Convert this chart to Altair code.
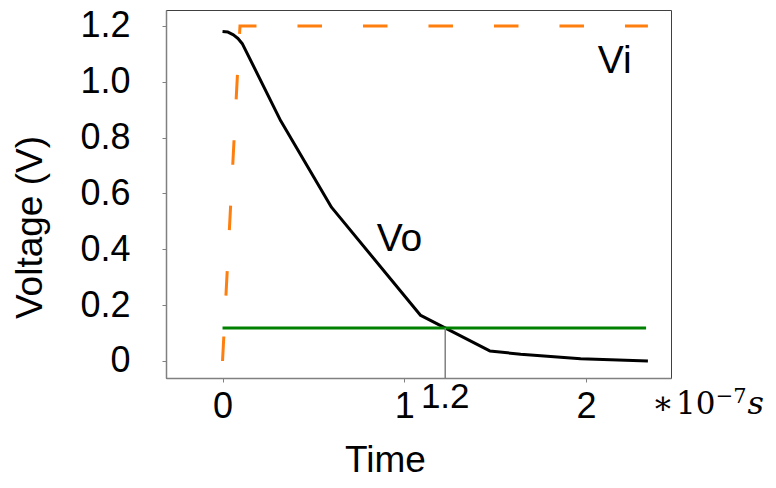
import altair as alt
import pandas as pd

# Vo (black) curve, time in units of 1e-7 s, voltage in V
vo_t = [0.0, 0.03, 0.06, 0.085, 0.11, 0.32, 0.6, 1.09, 1.47, 1.64, 1.97, 2.34]
vo_v = [1.18, 1.178, 1.168, 1.155, 1.135, 0.86, 0.55, 0.163, 0.036, 0.024, 0.008, 0.0]

# Vi (orange dashed) input step
vi_t = [0.0, 0.096, 2.34]
vi_v = [0.0, 1.2, 1.2]

# threshold (green) line
thr_t = [0.0, 2.33]
thr_v = [0.118, 0.118]

# crossing marker
cross_t = [1.225]
cross_v = [0.118]

x_ticks = [0, 1, 2]
y_ticks = [0, 0.2, 0.4, 0.6, 0.8, 1.0, 1.2]

XDOM = [-0.311, 2.467]
YDOM = [-0.061, 1.257]

vo = pd.DataFrame({"t": vo_t, "v": vo_v})
vi = pd.DataFrame({"t": vi_t, "v": vi_v})
thr = pd.DataFrame({"t": thr_t, "v": thr_v})
cross = pd.DataFrame({"t": cross_t, "v": cross_v, "v2": [YDOM[0]]})

xs = alt.Scale(domain=XDOM, nice=False, zero=False)
ys = alt.Scale(domain=YDOM, nice=False, zero=False)

FONT = "Liberation Sans"

xenc = alt.X("t:Q", scale=xs, axis=alt.Axis(
    values=x_ticks, title="Time", labelFontSize=36, titleFontSize=37,
    labelFont=FONT, titleFont=FONT, titleFontWeight="normal",
    labelColor="black", titleColor="black",
    tickColor="#808080", tickSize=4, labelPadding=7,
    domainColor="#808080", domainWidth=1.5, grid=False,
    titleX=219, titleY=93, titleBaseline="alphabetic", titleAnchor=None,
    labelExpr="format(datum.value, 'd')"))
yenc = alt.Y("v:Q", scale=ys, axis=alt.Axis(
    values=y_ticks, title="Voltage (V)", labelFontSize=36, titleFontSize=37,
    labelFont=FONT, titleFont=FONT, titleFontWeight="normal",
    labelColor="black", titleColor="black",
    tickColor="#808080", tickSize=4, labelPadding=32,
    domainColor="#808080", domainWidth=1.5, grid=False,
    titleX=-136, titleY=217, titleBaseline="middle", titleAngle=-90,
    titleAlign="center",
    labelExpr="datum.value == 0 ? '0' : format(datum.value, '.1f')"))

vi_line = alt.Chart(vi).mark_line(color="#ff7f0e", strokeWidth=3,
                                  strokeDash=[24.5, 41]).encode(x=xenc, y=yenc)
vo_line = alt.Chart(vo).mark_line(color="black", strokeWidth=3,
                                  strokeJoin="round").encode(x="t:Q", y="v:Q")
thr_line = alt.Chart(thr).mark_line(color="#008000", strokeWidth=3).encode(x="t:Q", y="v:Q")
cross_rule = alt.Chart(cross).mark_rule(color="#808080", strokeWidth=1.5).encode(
    x="t:Q", y="v:Q", y2="v2:Q")

# text annotations
lab_vo = pd.DataFrame({"t": [0.848], "v": [0.394], "txt": ["Vo"]})
lab_vi = pd.DataFrame({"t": [2.064], "v": [1.033], "txt": ["Vi"]})
lab_12 = pd.DataFrame({"t": [1.225], "v": [-0.167], "txt": ["1.2"]})

def txt(df, size, align="left", font=FONT, style="normal"):
    return alt.Chart(df).mark_text(align=align, baseline="alphabetic", fontSize=size,
                                   font=font, fontStyle=style, color="black").encode(
        x="t:Q", y="v:Q", text="txt:N")

t_vo = txt(lab_vo, 39)
t_vi = txt(lab_vi, 39)
t_12 = txt(lab_12, 35, align="center")

unit_star = pd.DataFrame({"t": [2.362], "v": [-0.191], "txt": ["∗"]})
unit_ten = pd.DataFrame({"t": [2.495], "v": [-0.191], "txt": ["10"]})
unit_exp = pd.DataFrame({"t": [2.713], "v": [-0.149], "txt": ["−7"]})
unit_s = pd.DataFrame({"t": [2.888], "v": [-0.191], "txt": ["s"]})

t_star = txt(unit_star, 32, font="DejaVu Serif")
t_ten = txt(unit_ten, 31, font="DejaVu Serif")
t_exp = txt(unit_exp, 21, font="DejaVu Serif")
t_s = txt(unit_s, 32, font="DejaVu Serif", style="italic")

chart = alt.layer(vi_line, vo_line, thr_line, cross_rule, t_vo, t_vi, t_12,
                  t_star, t_ten, t_exp, t_s).properties(
    width=505, height=368,
    autosize=alt.AutoSizeParams(type="none"),
    padding={"left": 158, "top": 2, "right": 97, "bottom": 102},
    background="white",
).configure_view(stroke="#404040", strokeWidth=1)

chart.save("out.html", embed_options={"renderer": "svg", "actions": False})
